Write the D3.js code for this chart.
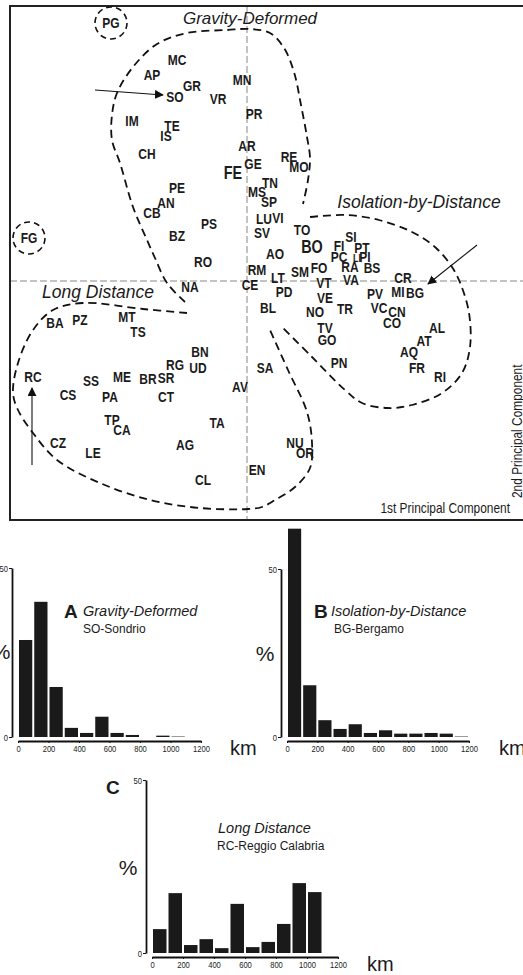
<!DOCTYPE html>
<html>
<head>
<meta charset="utf-8">
<script src="https://cdnjs.cloudflare.com/ajax/libs/d3/7.8.5/d3.min.js"></script>
<style>
body { margin: 0; background: #fff; }
svg { display: block; font-family: "Liberation Sans", Arial, Helvetica, sans-serif; }
</style>
</head>
<body>
<div id="chart"></div>
<script>

// PCA scores (labels only, no dot markers)

var codes = ["MC","AP","GR","SO","VR","MN","PR","IM","TE","IS","CH","AR","GE","FE","RE","MO","TN","MS","SP",
             "PE","AN","CB","PS","LU","VI","SV","BZ","TO","BO","AO","RO","RM","SI","FI","PT","PC","LI","PI",
             "RA","BS","SM","FO","LT","VA","CR","VT","CE","NA","PD","PV","MI","BG","VE","BL","TR","VC","NO",
             "CN","CO","AL","TV","GO","AT","AQ","PN","FR","RI","SA","AV","BA","PZ","MT","TS","BN","RG","UD",
             "RC","SS","ME","BR","SR","CS","PA","CT","TP","CA","TA","CZ","LE","AG","NU","OR","EN","CL"];
var pc1 = [-0.70,-0.95,-0.55,-0.72,-0.29,-0.05,0.07,-1.15,-0.75,-0.81,-1.00,0.00,0.06,-0.14,0.42,0.52,0.23,0.10,0.22,
           -0.70,-0.81,-0.95,-0.38,0.17,0.31,0.15,-0.70,0.55,0.65,0.28,-0.44,0.10,1.04,0.92,1.15,0.92,1.10,1.18,
           1.03,1.25,0.53,0.72,0.31,1.04,1.56,0.77,0.03,-0.57,0.37,1.28,1.51,1.68,0.78,0.21,0.98,1.32,0.68,
           1.50,1.45,1.90,0.78,0.80,1.77,1.62,0.92,1.70,1.93,0.18,-0.07,-1.92,-1.67,-1.20,-1.09,-0.47,-0.72,-0.49,
           -2.14,-1.56,-1.25,-0.99,-0.81,-1.79,-1.37,-0.81,-1.35,-1.25,-0.30,-1.89,-1.54,-0.62,0.48,0.58,0.10,-0.44];
var pc2 = [2.21,2.06,1.95,1.84,1.82,2.01,1.67,1.60,1.55,1.45,1.27,1.35,1.17,1.08,1.24,1.14,0.98,0.89,0.79,
           0.93,0.78,0.68,0.57,0.62,0.63,0.48,0.45,0.51,0.34,0.27,0.19,0.11,0.44,0.35,0.33,0.24,0.23,0.24,
           0.14,0.13,0.09,0.13,0.03,0.01,0.03,-0.02,-0.04,-0.06,-0.11,-0.13,-0.11,-0.12,-0.17,-0.27,-0.28,-0.27,-0.31,
           -0.31,-0.42,-0.47,-0.47,-0.59,-0.60,-0.71,-0.82,-0.87,-0.96,-0.87,-1.06,-0.42,-0.39,-0.36,-0.51,-0.71,-0.84,-0.87,
           -0.96,-1.00,-0.96,-0.98,-0.97,-1.14,-1.16,-1.16,-1.39,-1.49,-1.42,-1.62,-1.72,-1.64,-1.62,-1.72,-1.89,-1.99];
var bigCodes = ["FE", "BO"];
var smallCodes = ["LI"];

// outliers drawn inside small circles
var outlierCodes = ["PG", "FG"];
var outlierPc1 = [-1.36, -2.18];
var outlierPc2 = [2.58, 0.43];

// group outlines, [pc1, pc2]
var gravityOutline = [[-0.62,-0.21],[-0.80,-0.02],[-0.92,0.23],[-1.00,0.41],[-1.14,0.74],[-1.27,1.18],[-1.35,1.41],
    [-1.35,1.66],[-1.30,1.88],[-1.14,2.14],[-0.90,2.37],[-0.60,2.48],[-0.20,2.51],[0.03,2.52],[0.23,2.48],
    [0.37,2.33],[0.47,2.09],[0.54,1.76],[0.60,1.44],[0.63,1.23],[0.61,1.01],[0.56,0.77]];
var isolationOutline = [[0.63,0.64],[0.98,0.66],[1.32,0.61],[1.65,0.49],[1.88,0.34],[2.05,0.14],[2.14,-0.04],
    [2.22,-0.32],[2.23,-0.66],[2.15,-0.92],[1.95,-1.12],[1.65,-1.24],[1.41,-1.27],[1.15,-1.22],[0.98,-1.09],
    [0.65,-0.76],[0.35,-0.46]];
var longOutline = [[-0.60,-0.32],[-1.04,-0.28],[-1.64,-0.22],[-1.94,-0.29],[-2.14,-0.49],[-2.29,-0.82],[-2.34,-1.12],
    [-2.29,-1.29],[-2.14,-1.52],[-1.90,-1.79],[-1.47,-2.02],[-0.97,-2.19],[-0.47,-2.27],[0.01,-2.28],[0.15,-2.26],
    [0.28,-2.19],[0.48,-2.06],[0.63,-1.87],[0.65,-1.62],[0.60,-1.31],[0.41,-0.89],[0.23,-0.49]];

// arrows pointing to the three example populations, [from, to]
var arrows = [[[-1.52,1.91],[-0.84,1.86]], [[2.30,0.36],[1.81,-0.03]], [[-2.15,-1.84],[-2.15,-1.07]]];

// histograms of migration distance (% per 100 km bin)

var binStarts = [0,100,200,300,400,500,600,700,800,900,1000,1100];
var sondrio = [28.7,40.0,14.8,2.7,1.2,6.0,1.2,0.6,0,0.4,0.3,0];
var bergamo = [62.0,15.4,5.0,2.4,3.8,1.2,2.0,1.0,1.0,1.2,1.0,0.3];
var reggio  = [6.9,17.3,2.3,4.0,1.4,14.2,1.7,3.2,8.4,20.2,17.6,0];
var kmTicks = [0,200,400,600,800,1000,1200];
var pctTicks = [0,50];


var W = 523, H = 975;
var svg = d3.select("#chart").append("svg").attr("width", W).attr("height", H);

// condensed text helper (the figure uses a narrow face)
function ntext(g, x, y, txt, size, opts) {
    opts = opts || {};
    var sx = opts.sx || 0.82;
    var rot = opts.rotate ? " rotate(" + opts.rotate + ")" : "";
    return g.append("text")
        .attr("transform", "translate(" + x + "," + y + ")" + rot + " scale(" + sx + ",1)")
        .attr("text-anchor", opts.anchor || "middle")
        .attr("dy", "0.35em")
        .style("font-size", size + "px")
        .style("font-weight", opts.weight || "normal")
        .style("font-style", opts.italic ? "italic" : "normal")
        .attr("fill", "#1b1b1b")
        .text(txt);
}

// ---------- PCA panel ----------

var x = d3.scaleLinear().domain([-2.37, 2.76]).range([10, 523]);
var y = d3.scaleLinear().domain([-2.39, 2.75]).range([520, 6]);

var pca = svg.append("g");

// crosshair at zero
pca.append("line").attr("x1", x(0)).attr("x2", x(0)).attr("y1", y(2.75)).attr("y2", y(-2.39))
    .attr("stroke", "#888").attr("stroke-width", 1).attr("stroke-dasharray", "7,3");
pca.append("line").attr("x1", x(-2.37)).attr("x2", W).attr("y1", y(0)).attr("y2", y(0))
    .attr("stroke", "#888").attr("stroke-width", 1).attr("stroke-dasharray", "7,3");

// frame
pca.append("rect").attr("x", 10).attr("y", 6).attr("width", 530).attr("height", 514)
    .attr("fill", "none").attr("stroke", "#222").attr("stroke-width", 2);

// outlines
var outline = d3.line().x(function(d){ return x(d[0]); }).y(function(d){ return y(d[1]); })
    .curve(d3.curveCatmullRom.alpha(0.5));
[gravityOutline, isolationOutline, longOutline].forEach(function(o){
    pca.append("path").attr("d", outline(o)).attr("fill", "none")
        .attr("stroke", "#111").attr("stroke-width", 1.8).attr("stroke-dasharray", "8,5");
});

// arrows
svg.append("defs").append("marker").attr("id", "head")
    .attr("viewBox", "0 0 10 10").attr("refX", 9).attr("refY", 5)
    .attr("markerWidth", 9).attr("markerHeight", 9).attr("markerUnits", "userSpaceOnUse")
    .attr("orient", "auto")
    .append("path").attr("d", "M0,0 L10,5 L0,10 z").attr("fill", "#111");
arrows.forEach(function(a){
    pca.append("line").attr("x1", x(a[0][0])).attr("y1", y(a[0][1]))
        .attr("x2", x(a[1][0])).attr("y2", y(a[1][1]))
        .attr("stroke", "#111").attr("stroke-width", 1.1).attr("marker-end", "url(#head)");
});

// outlier circles
outlierCodes.forEach(function(c, i){
    pca.append("circle").attr("cx", x(outlierPc1[i])).attr("cy", y(outlierPc2[i])).attr("r", 16)
        .attr("fill", "none").attr("stroke", "#111").attr("stroke-width", 1.6).attr("stroke-dasharray", "6,4");
    ntext(pca, x(outlierPc1[i]), y(outlierPc2[i]), c, 15, {weight: "bold", sx: 0.8});
});

// population labels
codes.forEach(function(c, i){
    var size = bigCodes.indexOf(c) >= 0 ? 18 : (smallCodes.indexOf(c) >= 0 ? 11 : 15);
    ntext(pca, x(pc1[i]), y(pc2[i]), c, size, {weight: "bold", sx: 0.8});
});

// group names
ntext(pca, 250, 18, "Gravity-Deformed", 17, {italic: true, sx: 1});
ntext(pca, 419, 202, "Isolation-by-Distance", 17.5, {italic: true, sx: 1});
ntext(pca, 98, 292, "Long Distance", 17.5, {italic: true, sx: 1});

// axis titles
ntext(pca, 510, 508, "1st Principal Component", 14, {anchor: "end", sx: 0.85});
ntext(pca, 517, 498, "2nd Principal Component", 14, {anchor: "start", sx: 0.85, rotate: -90});

// ---------- histograms ----------

function histogram(values, o) {
    var g = svg.append("g");
    var xs = d3.scaleLinear().domain([0, 1200]).range([o.x0, o.x1]);
    var ys = d3.scaleLinear().domain([0, 50]).range([o.y0, o.y50]);

    g.selectAll("rect").data(values).enter().append("rect")
        .attr("x", function(d, i){ return xs(binStarts[i]) + 1; })
        .attr("width", function(d, i){ return xs(binStarts[i] + 100) - xs(binStarts[i]) - 2; })
        .attr("y", function(d){ return ys(d); })
        .attr("height", function(d){ return o.y0 - ys(d); })
        .attr("fill", function(d){ return d < 0.35 ? "#9a9a9a" : "#1a1a1a"; });

    var xa = g.append("g").attr("transform", "translate(0," + (o.y0 + 4) + ")")
        .call(d3.axisBottom(xs).tickValues(kmTicks).tickFormat(d3.format("d"))
            .tickSize(2).tickSizeOuter(0).tickPadding(2));
    var ya = g.append("g").attr("transform", "translate(" + (o.x0 - 6) + ",0)")
        .call(d3.axisLeft(ys).tickValues(pctTicks).tickSize(3).tickSizeOuter(0).tickPadding(2));

    [xa, ya].forEach(function(a){
        a.select(".domain").attr("stroke", "#111").attr("stroke-width", 1.8);
        a.selectAll(".tick line").attr("stroke", "#111");
        a.selectAll(".tick text").attr("fill", "#222")
            .style("font-size", "9.5px").attr("transform", "scale(0.8,1)");
    });

    if (o.letter) ntext(g, o.letterX, o.titleY, o.letter, 19, {weight: "bold", sx: 1, anchor: "start"});
    ntext(g, o.titleX, o.titleY, o.title, 14.5, {italic: true, sx: 1, anchor: "start"});
    ntext(g, o.subX, o.titleY + 18, o.sub, 12, {sx: 1, anchor: "start"});
    ntext(g, o.pctX, o.pctY, "%", 21, {sx: 1});
    ntext(g, o.kmX, o.y0 + 11, "km", 20, {sx: 1, anchor: "start"});
    return g;
}

histogram(sondrio, {x0: 18, x1: 201, y0: 737, y50: 568, letter: "A", letterX: 64,
    titleX: 83, titleY: 611, title: "Gravity-Deformed", subX: 83, sub: "SO-Sondrio",
    pctX: 1, pctY: 652, kmX: 230});

histogram(bergamo, {x0: 287, x1: 469, y0: 737, y50: 569, letter: "B", letterX: 314,
    titleX: 331, titleY: 611, title: "Isolation-by-Distance", subX: 334, sub: "BG-Bergamo",
    pctX: 265, pctY: 654, kmX: 499});

histogram(reggio, {x0: 152, x1: 338, y0: 953, y50: 780, letter: null,
    titleX: 218, titleY: 828, title: "Long Distance", subX: 217, sub: "RC-Reggio Calabria",
    pctX: 128, pctY: 868, kmX: 367});
ntext(svg, 106, 787, "C", 19, {weight: "bold", sx: 1, anchor: "start"});

</script>
</body>
</html>
